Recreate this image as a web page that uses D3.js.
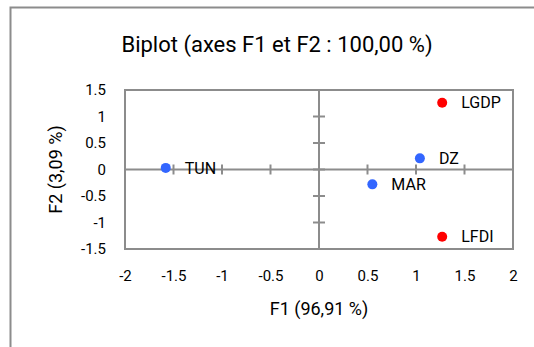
<!DOCTYPE html>
<html>
<head>
<meta charset="utf-8">
<script src="https://cdn.jsdelivr.net/npm/d3@7"></script>
<style>
body{margin:0;background:#fff}
text{font-family:Roboto,"Noto Sans",sans-serif;fill:#000}
</style>
</head>
<body>
<svg id="chart"></svg>
<script>
var labels = ["TUN","DZ","MAR","LGDP","LFDI"]
var f1 = [-1.58,1.04,0.55,1.27,1.27]
var f2 = [0.03,0.21,-0.28,1.26,-1.27]
var kind = ["obs","obs","obs","var","var"]
var xTicks = [-2,-1.5,-1,-0.5,0,0.5,1,1.5,2]
var yTicks = [-1.5,-1,-0.5,0,0.5,1,1.5]

var screen = {width:534,height:347}
var margins = {left:125,right:21,top:90,bottom:98}
var graph = {
    width:screen.width-margins.left-margins.right,
    height:screen.height-margins.top-margins.bottom
}

var svg = d3.select("#chart")
    .attr("width",screen.width)
    .attr("height",screen.height)

// outer frame
svg.append("rect")
    .attr("x",10.5).attr("y",7.5)
    .attr("width",600).attr("height",400)
    .attr("fill","none").attr("stroke","#8c8c8c").attr("stroke-width",2)

var xScale = d3.scaleLinear().domain([-2,2]).range([0,graph.width])
var yScale = d3.scaleLinear().domain([-1.5,1.5]).range([graph.height,0])

var plot = svg.append("g")
    .attr("transform","translate("+margins.left+","+margins.top+")")

plot.append("rect")
    .attr("width",graph.width).attr("height",graph.height)
    .attr("fill","none").attr("stroke","#8c8c8c").attr("stroke-width",2)

// tick labels
var xAxis = d3.axisBottom(xScale).tickValues(xTicks).tickSize(0).tickPadding(21)
    .tickFormat(function(d){return String(d)})
var yAxis = d3.axisLeft(yScale).tickValues(yTicks).tickSize(0).tickPadding(19)
    .tickFormat(function(d){return String(d)})

var gx = plot.append("g").attr("transform","translate(0,"+graph.height+")").call(xAxis)
var gy = plot.append("g").call(yAxis)
gx.select(".domain").remove()
gy.select(".domain").remove()
gx.selectAll("text").style("font-size","15px").style("font-family","Roboto")
gy.selectAll("text").style("font-size","15px").style("font-family","Roboto")

// crossing axes through origin
var axisColor = "#8c8c8c"
plot.append("line")
    .attr("x1",0).attr("x2",graph.width)
    .attr("y1",yScale(0)).attr("y2",yScale(0))
    .attr("stroke",axisColor).attr("stroke-width",2)
plot.append("line")
    .attr("x1",xScale(0)).attr("x2",xScale(0))
    .attr("y1",0).attr("y2",graph.height)
    .attr("stroke",axisColor).attr("stroke-width",2)

plot.selectAll(".xt")
    .data(xTicks)
    .enter()
    .append("line")
    .attr("x1",function(d){return xScale(d)})
    .attr("x2",function(d){return xScale(d)})
    .attr("y1",yScale(0)-5).attr("y2",yScale(0)+5)
    .attr("stroke",axisColor).attr("stroke-width",2)

plot.selectAll(".yt")
    .data(yTicks)
    .enter()
    .append("line")
    .attr("y1",function(d){return yScale(d)})
    .attr("y2",function(d){return yScale(d)})
    .attr("x1",xScale(0)-6).attr("x2",xScale(0)+6)
    .attr("stroke",axisColor).attr("stroke-width",2)

// points
var pts = d3.range(labels.length)
plot.selectAll("circle")
    .data(pts)
    .enter()
    .append("circle")
    .attr("cx",function(i){return xScale(f1[i])})
    .attr("cy",function(i){return yScale(f2[i])})
    .attr("r",5)
    .attr("fill",function(i){return kind[i]=="var" ? "#ff0000" : "#3366ff"})

plot.selectAll(".plabel")
    .data(pts)
    .enter()
    .append("text")
    .text(function(i){return labels[i]})
    .attr("x",function(i){return xScale(f1[i])+19})
    .attr("y",function(i){return yScale(f2[i])})
    .attr("dy","0.35em")
    .style("font-size","16px")

// title and axis labels
svg.append("text")
    .text("Biplot (axes F1 et F2 : 100,00 %)")
    .attr("text-anchor","middle")
    .attr("x",277).attr("y",52)
    .style("font-size","22px")

svg.append("text")
    .text("F1 (96,91 %)")
    .attr("text-anchor","middle")
    .attr("x",margins.left+graph.width/2).attr("y",315)
    .style("font-size","18px")

svg.append("g")
    .attr("transform","translate(62,"+(margins.top+graph.height/2)+")")
    .append("text")
    .text("F2 (3,09 %)")
    .attr("text-anchor","middle")
    .attr("transform","rotate(270)")
    .style("font-size","18px")
</script>
</body>
</html>
